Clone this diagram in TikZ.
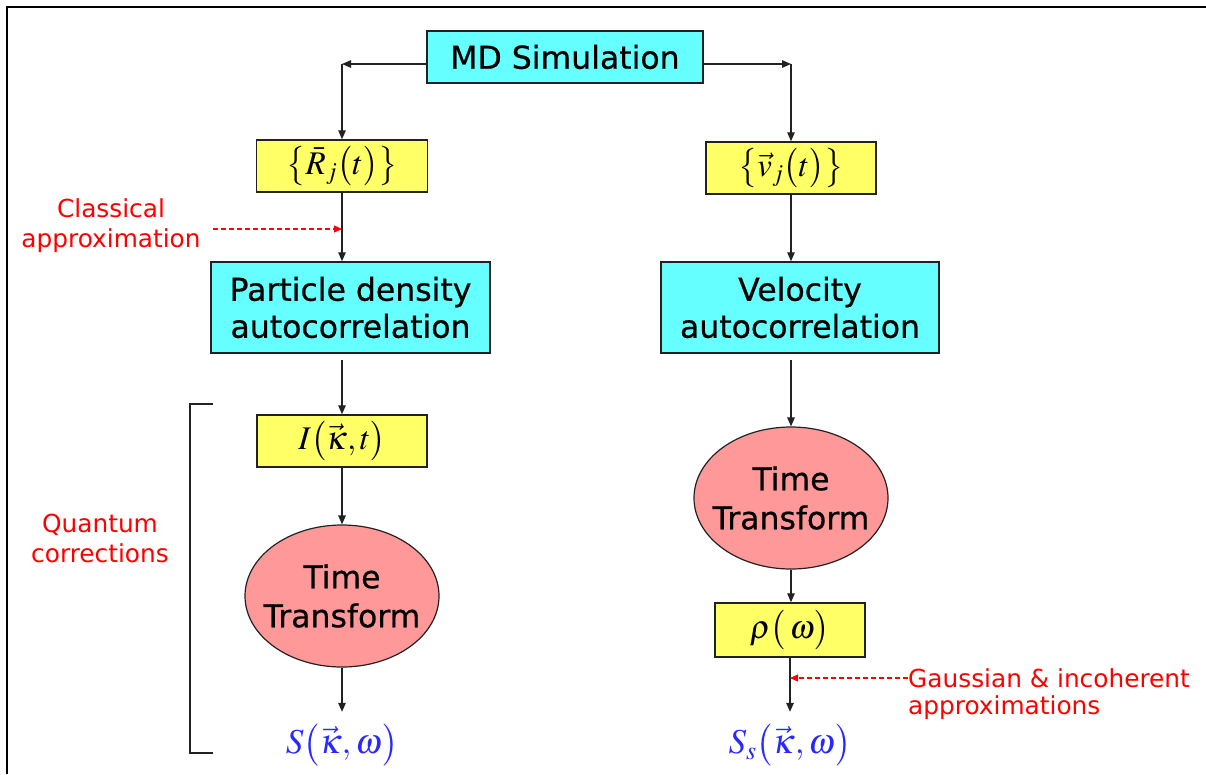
\documentclass[tikz,border=0pt]{standalone}
\usepackage{mathptmx}
\usepackage[no-math]{fontspec}
\setmainfont{DejaVu Sans}
\newfontfamily\boxfont[FakeBold=0.6]{DejaVu Sans}
\usetikzlibrary{arrows.meta,shapes.geometric,calc}
\definecolor{boxcyan}{HTML}{66FFFF}
\definecolor{boxyellow}{HTML}{FFFF66}
\definecolor{ellpink}{HTML}{FF9999}
\definecolor{edgegray}{HTML}{222222}
\definecolor{outblue}{RGB}{40,40,255}
\tikzset{
  cyanbox/.style={draw=edgegray, fill=boxcyan, line width=1.5pt, inner sep=0pt, align=center, font=\boxfont\fontsize{31.5}{37}\selectfont},
  yelbox/.style={draw=edgegray, fill=boxyellow, line width=1.5pt, inner sep=0pt, font=\fontsize{33}{36}\selectfont},
  ellbox/.style={ellipse, draw=edgegray, fill=ellpink, line width=1.2pt, inner xsep=-12pt, inner ysep=0pt, minimum width=194pt, minimum height=142pt, align=center, font=\boxfont\fontsize{31.5}{39}\selectfont},
  outtext/.style={text=outblue, inner sep=2pt, font=\fontsize{35}{38}\selectfont},
  redlabel/.style={text=red, inner sep=0pt, align=center, font=\fontsize{24.8}{30}\selectfont},
  arr/.style={draw=edgegray, line width=1.3pt, -{Triangle[length=9pt,width=7.5pt]}},
  redarr/.style={draw=red, line width=1.2pt, dash pattern=on 5pt off 3pt, -{Triangle[length=8pt,width=7pt]}}
}
\begin{document}
\begin{tikzpicture}[x=1pt,y=-1pt]
\useasboundingbox[fill=white] (0,0) rectangle (1206,774);
\draw[line width=2.5pt] (7,774) -- (7,7) -- (1206,7);

% boxes
\node[cyanbox, minimum width=276pt, minimum height=52pt] (md) at (565,57) {MD Simulation};
\node[yelbox, minimum width=171pt, minimum height=52pt] (R) at (342,166) {$\left\{\bar{R}_j\bigl(t\bigr)\right\}$};
\node[yelbox, minimum width=170pt, minimum height=52pt] (v) at (791,168) {$\left\{\vec{v}_j\bigl(t\bigr)\right\}$};
\node[cyanbox, minimum width=279pt, minimum height=91pt] (pd) at (350.5,307.5) {Particle density\\autocorrelation};
\node[cyanbox, minimum width=278pt, minimum height=91pt] (va) at (800,307.5) {Velocity\\autocorrelation};
\node[yelbox, minimum width=170pt, minimum height=52pt] (I) at (342,441) {$I\bigl(\vec{\kappa},t\bigr)$};
\node[ellbox] (tl) at (342,596) {Time\\Transform};
\node[ellbox] (tr) at (791,498) {Time\\Transform};
\node[yelbox, minimum width=150pt, minimum height=54pt] (rho) at (790,630) {$\rho\bigl(\,\omega\bigr)$};
\node[outtext] (S) at (342,745) {$S\bigl(\vec{\kappa},\omega\bigr)$};
\node[outtext] (Ss) at (790,745) {$S_s\bigl(\vec{\kappa},\omega\bigr)$};

% labels
\node[redlabel] (cls) at (111,226) {Classical\\approximation};
\node[redlabel] (qc) at (100,538) {Quantum\\corrections};
\node[redlabel, anchor=west] (ga1) at (908,678) {Gaussian \& incoherent};
\node[redlabel, anchor=west] (ga2) at (908,708) {approximations};

% connectors
\coordinate (cl) at (342,64);
\coordinate (cr) at (791,64);
\draw[arr] (md.west |- cl) -- (cl);
\draw[arr] (md.east |- cr) -- (cr);
\draw[arr] (cl) -- (R.north);
\draw[arr] (cr) -- (v.north);
\draw[arr] (R.south) -- (R.south |- pd.north);
\draw[arr] (v.south) -- (v.south |- va.north);
\draw[arr, shorten <=6pt] (I.north |- pd.south) -- (I.north);
\draw[arr, shorten <=6pt] (tr.north |- va.south) -- (tr.north);
\draw[arr] (I.south) -- (tl.north);
\draw[arr, shorten >=10pt] (tl.south) -- (tl.south |- S.north);
\draw[arr] (tr.south) -- (tr.south |- rho.north);
\draw[arr, shorten >=10pt] (rho.south) -- (rho.south |- Ss.north);

\coordinate (ca) at (342,229);
\coordinate (gc) at (790,678);
\draw[redarr] (cls.east |- ca) ++(12,0) -- (ca);
\draw[redarr] (ga1.west) -- (gc);

% bracket
\draw[edgegray, line width=1.5pt] (213,404) -- (190,404) -- (190,753) -- (213,753);
\end{tikzpicture}
\end{document}
